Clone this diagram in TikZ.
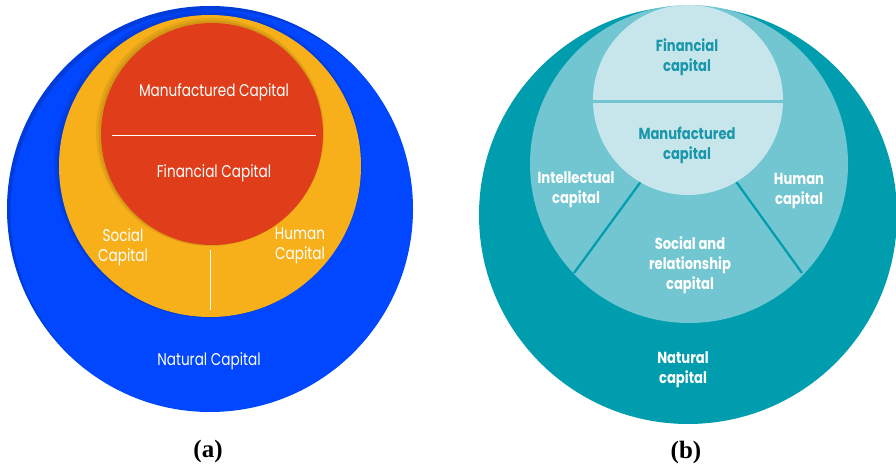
\documentclass[tikz,border=0pt]{standalone}
\usepackage{fontspec}
\newfontfamily\capfont[FakeStretch=0.80]{Poppins}
\newfontfamily\tealfont[FakeStretch=0.82]{Poppins}
\newfontfamily\labfont{Liberation Serif}
\definecolor{c0047ff}{RGB}{0,71,255}
\definecolor{cf7b019}{RGB}{247,176,25}
\definecolor{ce03e1a}{RGB}{224,62,26}
\definecolor{c009dae}{RGB}{0,157,174}
\definecolor{c72c6d1}{RGB}{114,198,209}
\definecolor{cc6e6ec}{RGB}{198,230,236}
\definecolor{c1e96a8}{RGB}{26,150,170}

\begin{document}
\begin{tikzpicture}[y=1pt, x=1pt, yscale=-1, inner sep=0pt, outer sep=0pt]
\useasboundingbox (0,0) rectangle (896,465);
\tikzset{
  shade ring/.style={fill=black, opacity=0.07},
  light text/.style={font=\capfont\fontsize{17}{20}\selectfont, text=white,
    align=center},
  teal text/.style={font=\tealfont\bfseries\fontsize{16}{20}\selectfont,
    align=center},
  sub label/.style={font=\labfont\bfseries\fontsize{25}{28}\selectfont}
}
% (a) nested circles
\begin{scope}
  \path[fill=c0047ff] (210,209) circle (203);
  \begin{scope}
    \clip (210,209) circle (203);
    \path[draw=black, opacity=0.15, line width=5pt] (213,212) circle (205);
  \end{scope}
  \path[shade ring] (208,164) circle (154);
  \path[shade ring] (209,165) circle (152.5);
  \path[fill=cf7b019] (210,166) circle (151);
  \path[shade ring] (210,132) circle (114);
  \path[shade ring] (211,133) circle (112.5);
  \path[fill=ce03e1a] (212,134) circle (111);
  \path[draw=white, line width=1.0pt] (112,136) -- (316,136);
  \path[draw=white, line width=1.0pt] (210,250) -- (210,310);
  \path (214,92) node (text-manufactured-a) [light text]
    {Manufactured Capital};
  \path (214,173) node (text-financial-a) [light text] {Financial Capital};
  \path (123,247) node (text-social-a) [light text] {Social\\Capital};
  \path (300,246) node (text-human-a) [light text] {Human\\Capital};
  \path (209,361) node (text-natural-a) [light text] {Natural Capital};
  \path (208,451) node (text-label-a) [sub label] {(a)};
\end{scope}
% (b) integrated reporting capitals
\begin{scope}
  \path[fill=c009dae] (688,215) circle (209);
  \path[fill=c72c6d1] (689,164) circle (159);
  \path[draw=c009dae, line width=2.2pt] (645,176) -- (574,273);
  \path[draw=c009dae, line width=2.2pt] (732,176) -- (802,273);
  \path[fill=cc6e6ec] (688,100) circle (95);
  \begin{scope}
    \clip (688,100) circle (95);
    \path[draw=c72c6d1, line width=3.0pt] (590,102) -- (786,102);
  \end{scope}
  \path (687,57) node (text-financial-b) [teal text, text=c1e96a8]
    {Financial\\capital};
  \path (687,145) node (text-manufactured-b) [teal text, text=c1e96a8]
    {Manufactured\\capital};
  \path (576,190) node (text-intellectual-b) [teal text, text=white]
    {Intellectual\\capital};
  \path (799,191) node (text-human-b) [teal text, text=white]
    {Human\\capital};
  \path (690,265) node (text-social-b) [teal text, text=white]
    {Social and\\relationship\\capital};
  \path (683,370) node (text-natural-b) [teal text, text=white]
    {Natural\\capital};
  \path (686,452) node (text-label-b) [sub label] {(b)};
\end{scope}

\end{tikzpicture}
\end{document}
